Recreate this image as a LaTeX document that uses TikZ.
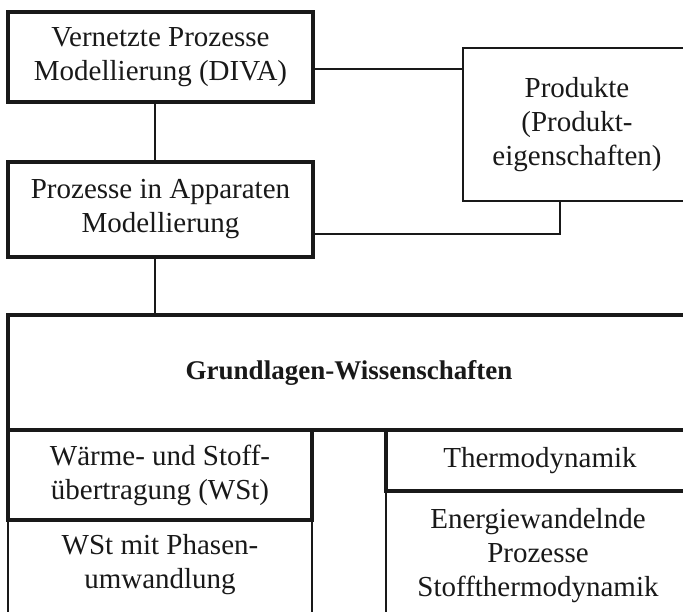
\documentclass[tikz,border=0pt]{standalone}
\usepackage{fontspec}
\setmainfont{Liberation Serif}
\begin{document}
\begin{tikzpicture}[x=1pt,y=-1pt,
  txt/.style={font=\fontsize{29}{34}\selectfont, align=center, inner sep=0pt, text=black!90},
  thickbox/.style={txt, draw=black!90, line width=3.6pt},
  thinbox/.style={txt, draw=black!90, line width=1.9pt},
  conn/.style={draw=black!90, line width=1.7pt}]
\clip (0,0) rectangle (683,611);
\fill[white] (0,0) rectangle (683,611);
% top boxes
\node[thickbox, minimum width=305pt, minimum height=90pt] (b1) at (160.5,57) {Vernetzte Prozesse\\Modellierung (DIVA)};
\node[thickbox, minimum width=305pt, minimum height=95pt] (b2) at (160.5,209.5) {Prozesse in Apparaten\\Modellierung};
\node[thinbox, minimum width=228pt, minimum height=153pt] (prod) at (577,124.5) {Produkte\\(Produkt-\\eigenschaften)};
% lower part
\node[thickbox, minimum width=682pt, minimum height=115pt, font=\fontsize{27}{32}\selectfont\bfseries] (grund) at (349,372.5) {Grundlagen-Wissenschaften};
\node[thinbox, minimum width=304pt, minimum height=130pt] (wst) at (160,585) {};
\node[txt, anchor=north] (wsttxt) at (160,534) {WSt mit Phasen-\\umwandlung};
\node[thinbox, minimum width=308pt, minimum height=150pt] (energ) at (540,566) {};
\node[txt, anchor=north] (energtxt) at (538,508) {Energiewandelnde\\Prozesse\\Stoffthermodynamik};
\node[thickbox, minimum width=304pt, minimum height=90pt] (waerme) at (160,475) {Wärme- und Stoff-\\übertragung (WSt)};
\node[thickbox, minimum width=308pt, minimum height=61pt] (thermo) at (540,460.5) {Thermodynamik};
% connectors
\draw[conn] ([xshift=-5.5pt]b1.south) -- ([xshift=-5.5pt]b2.north);
\draw[conn] ([yshift=-12pt]b1.east) -- ([yshift=-12pt]b1.east -| prod.west);
\draw[conn] ([yshift=-24.5pt]b2.east) -| ([xshift=-17pt]prod.south);
\draw[conn] ([xshift=-5.5pt]b2.south) -- ([xshift=-5.5pt]b2.south |- grund.north);
\end{tikzpicture}
\end{document}
